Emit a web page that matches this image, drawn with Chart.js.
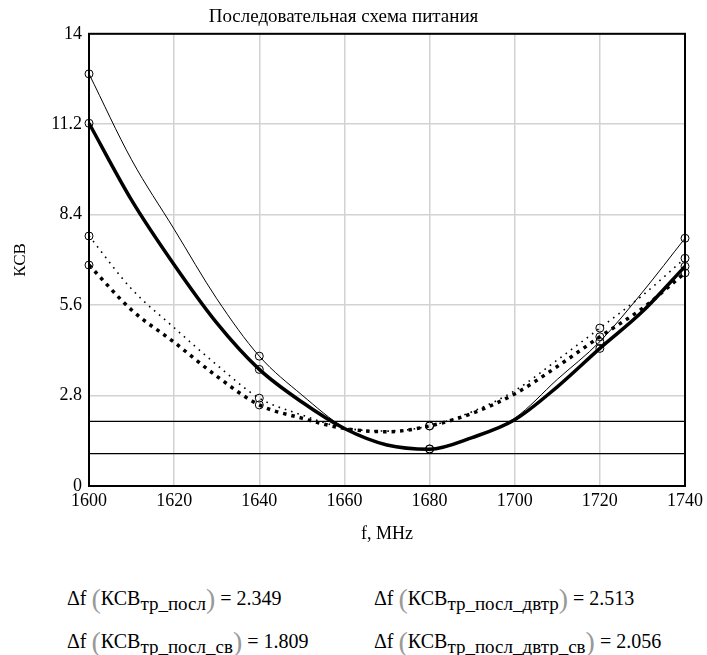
<!DOCTYPE html>
<html>
<head>
<meta charset="utf-8">
<script src="https://cdn.jsdelivr.net/npm/chart.js@4.4.1/dist/chart.umd.min.js"></script>
<style>
  html, body { margin: 0; padding: 0; background: #fff; }
  #wrap { position: relative; width: 707px; height: 655px; }
  #c { position: absolute; left: 0; top: 0; }
  .f { position: absolute; font-family: "Liberation Serif", serif; font-size: 20px; color: #000; white-space: nowrap; line-height: 20px; }
  .f sub { font-size: 19px; vertical-align: -5px; line-height: 0; }
  .f .br { color: #999; font-size: 28px; vertical-align: -3px; line-height: 0; }
</style>
</head>
<body>
<div id="wrap">
  <canvas id="c" width="707" height="545"></canvas>
</div>
<script>
// frequency grid the curves were read at (MHz)
const freqs = [1600, 1610, 1620, 1630, 1640, 1650, 1660, 1670, 1680, 1690, 1700, 1710, 1720, 1730, 1740];
const markerFreqs = [1600, 1640, 1680, 1720, 1740];

// KSV curves
const ksvPosl       = [12.76, 10.1, 7.95, 5.8, 4.02, 2.82, 1.8, 1.27, 1.15, 1.5, 2.1, 3.3, 4.47, 6.0, 7.67];   // thin solid
const ksvPoslSv     = [11.23, 8.85, 6.85, 5.05, 3.61, 2.6, 1.78, 1.27, 1.14, 1.5, 2.05, 3.07, 4.26, 5.4, 6.8]; // thick solid
const ksvDvtr       = [7.74, 6.1, 4.9, 3.75, 2.72, 2.2, 1.8, 1.7, 1.86, 2.3, 2.95, 3.9, 4.89, 5.9, 7.05];     // thin dotted
const ksvDvtrSv     = [6.84, 5.45, 4.45, 3.4, 2.51, 2.1, 1.78, 1.68, 1.86, 2.25, 2.85, 3.7, 4.62, 5.5, 6.6];  // thick dotted
const levels = [2, 1];

const xTicks = [1600, 1620, 1640, 1660, 1680, 1700, 1720, 1740];
const yTicks = [0, 2.8, 5.6, 8.4, 11.2, 14];

const deltaNames  = ['тр_посл', 'тр_посл_двтр', 'тр_посл_св', 'тр_посл_двтр_св'];
const deltaValues = ['2.349', '2.513', '1.809', '2.056'];

const serif = "'Liberation Serif', 'Times New Roman', serif";

function curve(label, values, width, dash) {
  return {
    label,
    data: freqs.map((f, i) => ({ x: f, y: values[i] })),
    borderColor: '#000',
    borderWidth: width,
    borderDash: dash,
    borderCapStyle: 'butt',
    cubicInterpolationMode: 'monotone',
    fill: false,
    clip: false,
    pointRadius: ctx => markerFreqs.includes(freqs[ctx.dataIndex]) ? 4 : 0,
    pointBorderColor: '#000',
    pointBackgroundColor: 'rgba(0,0,0,0)',
    pointBorderWidth: 1
  };
}

function levelLine(v) {
  return {
    label: 'level ' + v,
    data: [{ x: xTicks[0], y: v }, { x: xTicks[xTicks.length - 1], y: v }],
    borderColor: '#000',
    borderWidth: 1.3,
    pointRadius: 0,
    fill: false
  };
}

// black box round the plot area
const framePlugin = {
  id: 'frame',
  afterDatasetsDraw(chart) {
    const { ctx, chartArea: a } = chart;
    ctx.save();
    ctx.strokeStyle = '#000';
    ctx.lineWidth = 2;
    ctx.strokeRect(a.left, a.top, a.right - a.left, a.bottom - a.top);
    ctx.restore();
  }
};

new Chart(document.getElementById('c'), {
  type: 'line',
  data: {
    datasets: [
      ...levels.map(levelLine),
      curve('КСВ тр_посл', ksvPosl, 1, []),
      curve('КСВ тр_посл_св', ksvPoslSv, 3.5, []),
      curve('КСВ тр_посл_двтр', ksvDvtr, 1.6, [1.6, 5]),
      curve('КСВ тр_посл_двтр_св', ksvDvtrSv, 3.5, [3.5, 5])
    ]
  },
  options: {
    responsive: false,
    animation: false,
    layout: { padding: { left: 0, right: 20, top: 0, bottom: 0 } },
    scales: {
      x: {
        type: 'linear',
        min: 1600,
        max: 1740,
        afterBuildTicks: s => { s.ticks = xTicks.map(v => ({ value: v })); },
        afterFit: s => { s.height = 59; },
        grid: { color: '#d2d2d2', lineWidth: 1.5, drawTicks: false },
        border: { display: false },
        ticks: { color: '#000', font: { family: serif, size: 18 }, padding: 4, maxRotation: 0, autoSkip: false, callback: v => String(v) },
        title: { display: true, text: 'f, MHz', color: '#000', font: { family: serif, size: 18 }, padding: { top: 1, bottom: 0 } }
      },
      y: {
        min: 0,
        max: 14,
        afterBuildTicks: s => { s.ticks = yTicks.map(v => ({ value: v })); },
        afterFit: s => { s.width = 89; },
        grid: { color: '#d2d2d2', lineWidth: 1.5, drawTicks: false },
        border: { display: false },
        ticks: { color: '#000', font: { family: serif, size: 18 }, padding: 7, callback: v => String(+v.toFixed(1)) },
        title: { display: true, text: 'КСВ', color: '#000', font: { family: serif, size: 17 }, padding: { top: 10, bottom: 4 } }
      }
    },
    plugins: {
      legend: { display: false },
      tooltip: { enabled: false },
      title: {
        display: true,
        text: 'Последовательная схема питания',
        color: '#000',
        font: { family: serif, size: 19, weight: 'normal' },
        padding: { top: 6, bottom: 5 }
      }
    }
  },
  plugins: [framePlugin]
});

// bandwidth results under the chart
const wrap = document.getElementById('wrap');
const cols = [67, 374];
const rows = [588, 631];
deltaNames.forEach((name, i) => {
  const d = document.createElement('div');
  d.className = 'f';
  d.style.left = cols[i % 2] + 'px';
  d.style.top = rows[Math.floor(i / 2)] + 'px';
  d.innerHTML = 'Δf <span class="br">(</span>КСВ<sub>' + name + '</sub><span class="br">)</span> = ' + deltaValues[i];
  wrap.appendChild(d);
});
</script>
</body>
</html>
